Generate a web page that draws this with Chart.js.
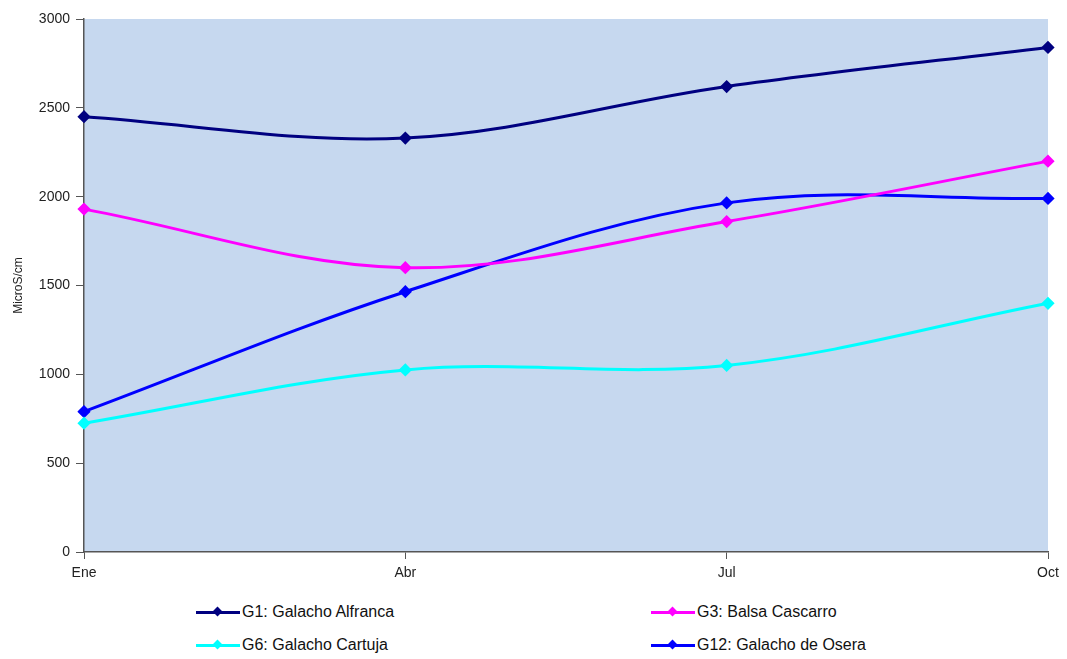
<!DOCTYPE html>
<html>
<head>
<meta charset="utf-8">
<script src="https://cdn.jsdelivr.net/npm/chart.js@4.4.1/dist/chart.umd.min.js"></script>
<style>
    body { margin: 0; background: #fff; font-family: "Liberation Sans", Arial, sans-serif; }
    #wrap { position: relative; width: 1067px; height: 590px; }
    #legend { position: relative; width: 1067px; height: 69px; }
    .item { position: absolute; display: flex; align-items: center; font-size: 16px; color: #111; }
    .mark { position: relative; width: 44px; height: 3px; margin-right: 2px; }
    .mark i { position: absolute; left: 18px; top: -3px; width: 7px; height: 7px; transform: rotate(45deg); }
</style>
</head>
<body>
<div id="wrap"><canvas id="chart"></canvas></div>
<div id="legend"></div>
<script>
// Conductividad por galacho (MicroS/cm)
const months = ['Ene', 'Abr', 'Jul', 'Oct'];
const seriesNames = ['G1: Galacho Alfranca', 'G3: Balsa Cascarro', 'G6: Galacho Cartuja', 'G12: Galacho de Osera'];
const seriesColors = ['#000080', '#FF00FF', '#00FFFF', '#0000FF'];
const g1 = [2450, 2330, 2620, 2840];
const g3 = [1930, 1600, 1860, 2200];
const g6 = [725, 1025, 1050, 1400];
const g12 = [790, 1465, 1965, 1990];
const yTicks = [0, 500, 1000, 1500, 2000, 2500, 3000];

const allValues = [g1, g3, g6, g12];

const datasets = allValues.map((vals, i) => ({
    label: seriesNames[i],
    data: vals,
    borderColor: seriesColors[i],
    backgroundColor: seriesColors[i],
    borderWidth: 3,
    tension: 0.35,
    pointStyle: 'rectRot',
    pointRadius: 4.5,
    pointHoverRadius: 5,
    fill: false
}));

// Draw the light blue plot area
const plotBackground = {
    id: 'plotBackground',
    beforeDraw(chart) {
        const { ctx, chartArea } = chart;
        ctx.save();
        ctx.fillStyle = '#C6D8EF';
        ctx.fillRect(chartArea.left, chartArea.top, chartArea.right - chartArea.left, chartArea.bottom - chartArea.top);
        ctx.restore();
    }
};

new Chart(document.getElementById('chart').getContext('2d'), {
    type: 'line',
    data: { labels: months, datasets: datasets },
    plugins: [plotBackground],
    options: {
        responsive: true,
        maintainAspectRatio: false,
        animation: false,
        layout: { padding: { top: 19, right: 19, left: 0, bottom: 0 } },
        plugins: {
            legend: { display: false },
            tooltip: { enabled: false }
        },
        scales: {
            x: {
                offset: false,
                grid: { display: true, drawOnChartArea: false, tickLength: 7, color: '#555' },
                border: { color: '#555', width: 1.5 },
                ticks: { color: '#222', font: { family: 'Liberation Sans', size: 14 }, padding: 6, maxRotation: 0 },
                afterFit(scale) { scale.height = 38; }
            },
            y: {
                min: 0,
                max: 3000,
                afterBuildTicks(scale) { scale.ticks = yTicks.map(v => ({ value: v })); },
                grid: { display: true, drawOnChartArea: false, tickLength: 8, color: '#555' },
                border: { color: '#555', width: 1.5 },
                ticks: {
                    color: '#222',
                    font: { family: 'Liberation Sans', size: 14 },
                    padding: 6,
                    callback: v => String(v)
                },
                title: { display: true, text: 'MicroS/cm', color: '#222', font: { family: 'Liberation Sans', size: 12 }, padding: { top: 11, bottom: 0 } },
                afterFit(scale) { scale.width = 84; }
            }
        }
    }
});

// Legend in two columns under the chart
const legend = document.getElementById('legend');
const positions = [[196, 13], [651, 13], [196, 46], [651, 46]];
seriesNames.forEach((name, i) => {
    const item = document.createElement('div');
    item.className = 'item';
    item.style.left = positions[i][0] + 'px';
    item.style.top = positions[i][1] + 'px';
    item.innerHTML = `<span class="mark" style="background:${seriesColors[i]}"><i style="background:${seriesColors[i]}"></i></span><span>${name}</span>`;
    legend.appendChild(item);
});
</script>
</body>
</html>
